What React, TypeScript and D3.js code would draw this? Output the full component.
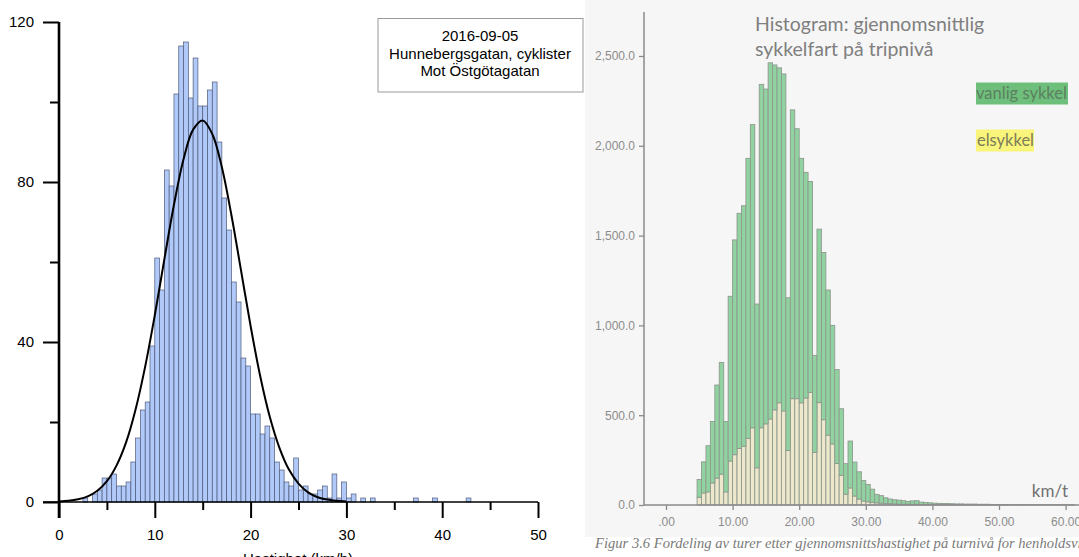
import React, { useEffect, useRef } from "react";
import * as d3 from "d3";

// left chart: Hunnebergsgatan, 0.5 km/h bins (lower edge, count)
const leftEdges = [2.5, 3.5, 4, 4.5, 5, 5.5, 6, 6.5, 7, 7.5, 8, 8.5, 9, 9.5, 10, 10.5, 11, 11.5, 12, 12.5, 13, 13.5, 14, 14.5, 15, 15.5, 16, 16.5, 17, 17.5, 18, 18.5, 19, 19.5, 20, 20.5, 21, 21.5, 22, 22.5, 23, 23.5, 24, 24.5, 25, 25.5, 26, 26.5, 27, 27.5, 28, 28.5, 29, 29.5, 30, 30.5, 31.5, 32.5, 37, 39, 42.5];
const leftCounts = [1, 2, 3, 6, 6, 7, 4, 4, 5, 10, 16, 23, 25, 39, 61, 53, 83, 79, 102, 114, 115, 101, 111, 99, 99, 103, 105, 90, 76, 68, 55, 50, 36, 34, 22, 22, 17, 19, 16, 10, 8, 5, 4, 11, 3, 4, 2, 2, 3, 4, 1, 7, 1, 5, 1, 2, 1, 1, 1, 1, 1];
const leftBinWidth = 0.5;

// fitted normal curve
const fitSpeed = [0, 1, 2, 3, 4, 5, 6, 7, 8, 9, 10, 11, 12, 13, 14, 15, 16, 17, 18, 19, 20, 21, 22, 23, 24, 25, 26, 27, 28, 29, 30];
const fitCount = [0.13, 0.3, 0.68, 1.4, 2.8, 5.2, 9.1, 14.9, 23.2, 33.9, 46.7, 60.7, 74.3, 85.7, 93.1, 95.4, 92.0, 83.7, 71.7, 57.9, 44.0, 31.5, 21.3, 13.6, 8.1, 4.6, 2.4, 1.2, 0.6, 0.3, 0.1];

const leftXTicks = [0, 10, 20, 30, 40, 50];
const leftXMinor = [5, 15, 25, 35, 45];
const leftYTicks = [0, 40, 80, 120];
const leftYMinor = [20, 60, 100];
const legendLines = ["2016-09-05", "Hunnebergsgatan, cyklister", "Mot Östgötagatan"];

// right chart: stacked histogram, bins of 2/3 km/t starting at 4.67
const rightStart = 14 / 3;
const rightBinWidth = 2 / 3;
const elsykkel = [43, 67, 73, 123, 150, 172, 73, 245, 280, 315, 327, 370, 430, 207, 430, 452, 479, 530, 569, 524, 303, 592, 592, 569, 596, 627, 292, 570, 475, 389, 340, 231, 165, 60, 95, 50, 33, 22, 18, 15, 12, 10, 8, 7, 6, 5, 5, 4, 4, 4, 3, 3, 3, 2, 2, 2, 2, 2, 1, 1, 1, 1, 1, 1, 1, 0, 0, 0, 0, 0, 0, 0, 0, 0, 0, 0, 0, 0, 0, 0, 0, 0, 0, 0, 0];
const vanlig = [99, 173, 257, 342, 518, 622, 392, 917, 1196, 1309, 1339, 1560, 1688, 912, 1912, 1864, 1983, 1920, 1865, 1876, 851, 1608, 1503, 1361, 1256, 1174, 541, 966, 931, 808, 660, 523, 371, 170, 261, 189, 152, 114, 96, 73, 47, 42, 32, 26, 23, 22, 19, 16, 19, 20, 13, 11, 9, 8, 7, 6, 6, 5, 5, 5, 4, 4, 4, 3, 3, 4, 3, 3, 3, 3, 2, 2, 2, 2, 2, 2, 2, 2, 2, 2, 2, 2, 2, 2, 2];
const rightXTicks = [0, 10, 20, 30, 40, 50, 60];
const rightYTicks = [0, 500, 1000, 1500, 2000, 2500];

const W = 1079;
const H = 557;

export default function App() {
  const svgRef = useRef<SVGSVGElement>(null);

  useEffect(() => {
    const svg = d3.select(svgRef.current);
    svg.selectAll("*").remove();

    // ---------- left chart ----------
    const xL = d3.scaleLinear().domain([0, 50]).range([59, 538]);
    const yL = d3.scaleLinear().domain([0, 120]).range([502, 22]);
    const left = svg.append("g").style("font-family", "'Liberation Sans', Arial, sans-serif");

    left
      .selectAll("rect.bar")
      .data(leftEdges)
      .enter()
      .append("rect")
      .attr("class", "bar")
      .attr("x", (d) => xL(d))
      .attr("width", (d) => xL(d + leftBinWidth) - xL(d))
      .attr("y", (d, i) => yL(leftCounts[i]))
      .attr("height", (d, i) => yL(0) - yL(leftCounts[i]))
      .attr("fill", "#b0c9f9")
      .attr("stroke", "#4d5a78")
      .attr("stroke-width", 0.7);

    const fit = d3
      .line<number>()
      .x((d) => xL(d))
      .y((d, i) => yL(fitCount[i]))
      .curve(d3.curveCatmullRom);
    left
      .append("path")
      .attr("d", fit(fitSpeed))
      .attr("fill", "none")
      .attr("stroke", "#000")
      .attr("stroke-width", 2);

    // axes
    const xAxisMajor = d3.axisBottom(xL).tickValues(leftXTicks).tickSize(16).tickPadding(11).tickFormat(d3.format("d"));
    const xAxisMinor = d3.axisBottom(xL).tickValues(leftXMinor).tickSize(8).tickFormat(() => "");
    const gx = left.append("g").attr("transform", `translate(0,${yL(0)})`).call(xAxisMajor);
    const gxm = left.append("g").attr("transform", `translate(0,${yL(0)})`).call(xAxisMinor);
    const yAxisMajor = d3.axisLeft(yL).tickValues(leftYTicks).tickSize(16).tickPadding(9).tickFormat(d3.format("d"));
    const yAxisMinor = d3.axisLeft(yL).tickValues(leftYMinor).tickSize(9).tickFormat(() => "");
    const gy = left.append("g").attr("transform", `translate(${xL(0)},0)`).call(yAxisMajor);
    const gym = left.append("g").attr("transform", `translate(${xL(0)},0)`).call(yAxisMinor);
    [gx, gxm, gy, gym].forEach((g) => {
      g.select(".domain").remove();
      g.selectAll("line").attr("stroke", "#000").attr("stroke-width", 2);
      g.selectAll("text").attr("fill", "#000").style("font-size", "15px").style("font-family", "'Liberation Sans', Arial, sans-serif");
    });
    left.append("line").attr("x1", 43).attr("x2", xL(50)).attr("y1", yL(0)).attr("y2", yL(0)).attr("stroke", "#000").attr("stroke-width", 1.6);
    left.append("line").attr("x1", xL(0)).attr("x2", xL(0)).attr("y1", yL(120)).attr("y2", yL(0) + 16).attr("stroke", "#000").attr("stroke-width", 2.6);

    left
      .append("text")
      .attr("x", 298)
      .attr("y", 564)
      .attr("text-anchor", "middle")
      .style("font-size", "15px")
      .text("Hastighet (km/h)");

    // legend box
    left
      .append("rect")
      .attr("x", 378)
      .attr("y", 18.5)
      .attr("width", 205)
      .attr("height", 73.5)
      .attr("fill", "#fff")
      .attr("stroke", "#9a9a9a");
    left
      .selectAll("text.leg")
      .data(legendLines)
      .enter()
      .append("text")
      .attr("class", "leg")
      .attr("x", 480)
      .attr("y", (d, i) => 41 + i * 17.5)
      .attr("text-anchor", "middle")
      .style("font-size", "15px")
      .text((d) => d);

    // ---------- right chart ----------
    const right = svg.append("g");
    right.append("rect").attr("x", 585).attr("y", 0).attr("width", W - 585).attr("height", 537).attr("fill", "#f6f6f6");

    const xR = d3.scaleLinear().domain([0, 60]).range([666, 1065.6]);
    const yR = d3.scaleLinear().domain([0, 2500]).range([505, 56]);

    const rows = vanlig.map((v, i) => ({ edge: rightStart + i * rightBinWidth, el: elsykkel[i], vanlig: v }));
    const stacked = d3.stack<any>().keys(["el", "vanlig"])(rows);
    const fills: Record<string, string> = { el: "#ede7cb", vanlig: "#90d3a0" };

    stacked.forEach((layer) => {
      right
        .append("g")
        .selectAll("rect")
        .data(layer)
        .enter()
        .append("rect")
        .attr("x", (d) => xR(d.data.edge))
        .attr("width", xR(rightBinWidth) - xR(0))
        .attr("y", (d) => yR(d[1]))
        .attr("height", (d) => yR(d[0]) - yR(d[1]))
        .attr("fill", fills[layer.key])
        .attr("stroke", "#8f9a8f")
        .attr("stroke-width", 0.9);
    });

    const gyR = right
      .append("g")
      .attr("transform", "translate(644,0)")
      .call(d3.axisLeft(yR).tickValues(rightYTicks).tickSize(5).tickPadding(4).tickFormat(d3.format(",.1f")));
    const gxR = right
      .append("g")
      .attr("transform", `translate(0,${yR(0)})`)
      .call(
        d3
          .axisBottom(xR)
          .tickValues(rightXTicks)
          .tickSize(5)
          .tickPadding(7)
          .tickFormat((d) => (d === 0 ? ".00" : d3.format(".2f")(d as number)))
      );
    [gyR, gxR].forEach((g) => {
      g.select(".domain").remove();
      g.selectAll("line").attr("stroke", "#8a8a8a").attr("stroke-width", 1.3);
      g.selectAll("text").attr("fill", "#8c8c8c").style("font-size", "12px").style("font-family", "'Liberation Sans', Arial, sans-serif");
    });
    right.append("line").attr("x1", 644).attr("x2", 644).attr("y1", 12).attr("y2", yR(0)).attr("stroke", "#8a8a8a").attr("stroke-width", 1.5);
    right.append("line").attr("x1", 644).attr("x2", W).attr("y1", yR(0)).attr("y2", yR(0)).attr("stroke", "#8a8a8a").attr("stroke-width", 1.5);

    const sans = "Lato, 'Open Sans', sans-serif";
    right
      .selectAll("text.title")
      .data(["Histogram: gjennomsnittlig", "sykkelfart på tripnivå"])
      .enter()
      .append("text")
      .attr("class", "title")
      .attr("x", 755)
      .attr("y", (d, i) => 31 + i * 25)
      .attr("fill", "#7f7f7f")
      .style("font-family", sans)
      .style("font-size", "19.5px")
      .text((d) => d);

    right.append("rect").attr("x", 976).attr("y", 82.5).attr("width", 92).attr("height", 22).attr("fill", "#6fbf7c");
    right
      .append("text")
      .attr("x", 976)
      .attr("y", 99)
      .attr("fill", "#5b7f60")
      .style("font-family", sans)
      .style("font-size", "16.5px")
      .text("vanlig sykkel");
    right.append("rect").attr("x", 976).attr("y", 129.5).attr("width", 58).attr("height", 22).attr("fill", "#f8f57a");
    right
      .append("text")
      .attr("x", 977)
      .attr("y", 146)
      .attr("fill", "#7e7b5a")
      .style("font-family", sans)
      .style("font-size", "16.5px")
      .text("elsykkel");
    right
      .append("text")
      .attr("x", 1068)
      .attr("y", 497)
      .attr("text-anchor", "end")
      .attr("fill", "#707070")
      .style("font-family", sans)
      .style("font-size", "17px")
      .text("km/t");

    svg
      .append("text")
      .attr("x", 595)
      .attr("y", 548)
      .attr("fill", "#7a7a7a")
      .style("font-family", "'Liberation Serif', 'DejaVu Serif', serif")
      .style("font-style", "italic")
      .style("font-size", "14.6px")
      .text("Figur 3.6 Fordeling av turer etter gjennomsnittshastighet på turnivå for henholdsvis vanlig sykkel og elsykkel");
  }, []);

  return (
    <div style={{ position: "absolute", left: 0, top: 0 }}>
      <svg ref={svgRef} width={W} height={H} style={{ display: "block", background: "#fff" }}></svg>
    </div>
  );
}
